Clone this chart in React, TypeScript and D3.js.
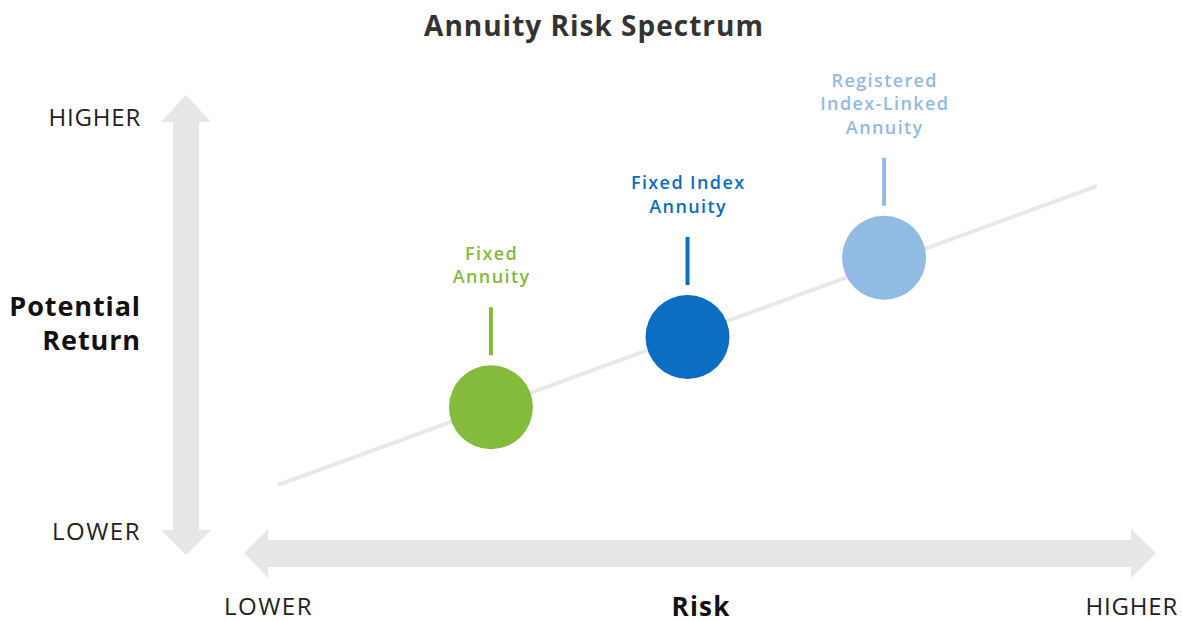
import React from 'react';
import * as d3 from 'd3';

// product positions on the risk / return spectrum (0-100 scale)
const products = ['Fixed Annuity', 'Fixed Index Annuity', 'Registered Index-Linked Annuity'];
const labelLines = [['Fixed', 'Annuity'], ['Fixed Index', 'Annuity'], ['Registered', 'Index-Linked', 'Annuity']];
const riskValues = [26, 50, 74];
const returnValues = [26, 49.5, 76];
const colors = ['#84bb3c', '#0a6fc2', '#92bbe4'];
const trendRisk = [0, 100];
const trendReturn = [0, 100];
const axisLabels = ['LOWER', 'HIGHER'];

const W = 1182;
const H = 621;
const FONT = '"Open Sans", Lato, sans-serif';

const App: React.FC = () => {
  const x = d3.scaleLinear().domain([0, 100]).range([278, 1097]);
  const y = d3.scaleLinear().domain([0, 100]).range([485, 186]);

  const line = d3.line<number>()
    .x((d) => x(trendRisk[d]))
    .y((d) => y(trendReturn[d]));

  // block arrows
  const vArrow = 'M186,95 L211,122 L199,122 L199,530 L211,530 L186,555 L161,530 L173,530 L173,122 L161,122 Z';
  const hArrow = 'M244,553 L268,529 L268,540 L1131,540 L1131,529 L1156,553 L1131,578 L1131,567 L268,567 L268,578 Z';

  const r = 42;

  return (
    <svg width={W} height={H} style={{ position: 'absolute', left: 0, top: 0 }}>
      <rect width={W} height={H} fill="#fff" />
      <text x={594} y={36} textAnchor="middle" fontFamily={FONT} fontWeight={700} fontSize={28}
        letterSpacing={1} fill="#333">
        Annuity Risk Spectrum
      </text>

      <path d={vArrow} fill="#e6e6e6" />
      <path d={hArrow} fill="#e6e6e6" />

      <path d={line([0, 1]) || ''} stroke="#e8e8e8" strokeWidth={4} fill="none" />

      {products.map((p, i) => {
        const cx = x(riskValues[i]);
        const cy = y(returnValues[i]);
        const lines = labelLines[i];
        const stemBottom = cy - r - 10;
        const stemTop = stemBottom - 48;
        const lastBaseline = stemTop - 24;
        return (
          <g key={p}>
            <line x1={cx} x2={cx} y1={stemTop} y2={stemBottom} stroke={colors[i]} strokeWidth={4} />
            <circle cx={cx} cy={cy} r={r} fill={colors[i]} />
            {lines.map((t, j) => (
              <text key={t} x={cx + 0.7} y={lastBaseline - (lines.length - 1 - j) * 23.5}
                textAnchor="middle" fontFamily={FONT} fontWeight={600} fontSize={18}
                letterSpacing={1.4} fill={colors[i]}>
                {t}
              </text>
            ))}
          </g>
        );
      })}

      <text x={141} y={126} textAnchor="end" fontFamily={FONT} fontSize={24} letterSpacing={0.8} fill="#222">{axisLabels[1]}</text>
      <text x={141} y={540} textAnchor="end" fontFamily={FONT} fontSize={24} letterSpacing={1.5} fill="#222">{axisLabels[0]}</text>
      <text x={141} y={316} textAnchor="end" fontFamily={FONT} fontWeight={700} fontSize={27} letterSpacing={0.9} fill="#111">Potential</text>
      <text x={141} y={350} textAnchor="end" fontFamily={FONT} fontWeight={700} fontSize={27} letterSpacing={0.9} fill="#111">Return</text>

      <text x={224} y={615} fontFamily={FONT} fontSize={24} letterSpacing={1.5} fill="#222">{axisLabels[0]}</text>
      <text x={1178} y={615} textAnchor="end" fontFamily={FONT} fontSize={24} letterSpacing={0.8} fill="#222">{axisLabels[1]}</text>
      <text x={701} y={616} textAnchor="middle" fontFamily={FONT} fontWeight={700} fontSize={26} letterSpacing={1.2} fill="#111">Risk</text>
    </svg>
  );
};

export default App;
